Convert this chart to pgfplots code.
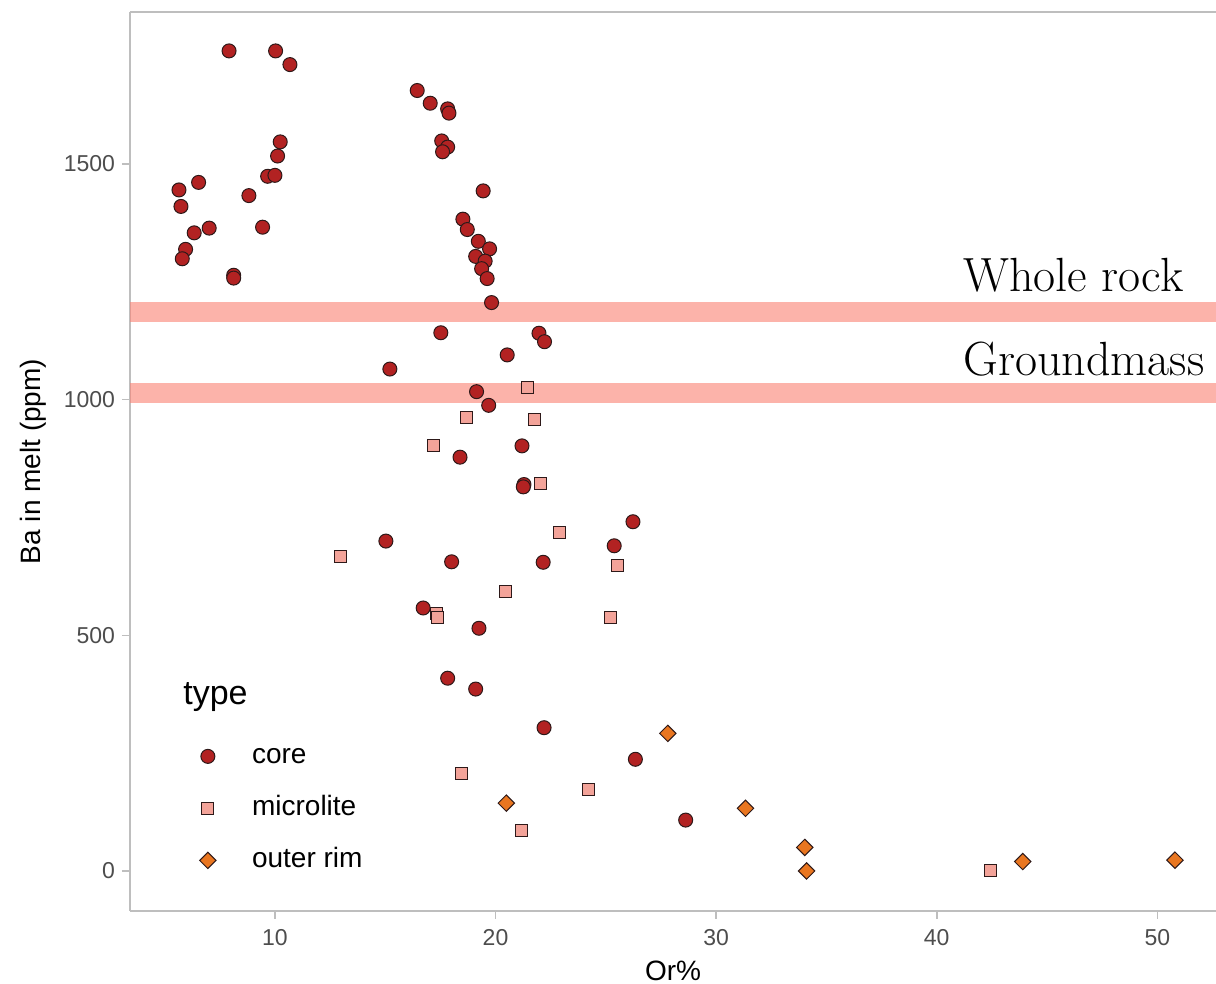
\documentclass[border=0pt]{standalone}
\usepackage{pgfplots}
\pgfplotsset{compat=1.18}
\usepackage{fontspec}
\newfontfamily\sans{Liberation Sans}

\definecolor{corefill}{RGB}{178,34,34}
\definecolor{microfill}{RGB}{243,163,153}
\definecolor{rimfill}{RGB}{233,118,32}
\definecolor{bandcol}{RGB}{250,128,114}
\definecolor{axisgrey}{RGB}{190,190,190}
\definecolor{ticktext}{RGB}{77,77,77}
\definecolor{edge}{RGB}{45,25,25}

% Or% vs Ba in melt, by feldspar zone
\pgfplotstableread{
x y
7.92 1740
10.03 1740
10.68 1711
16.45 1656
17.04 1629
17.83 1617
17.89 1608
10.24 1547
10.12 1517
9.67 1474
10.00 1476
5.65 1445
6.54 1461
5.74 1410
8.82 1433
17.56 1549
17.83 1536
17.60 1526
19.44 1443
7.02 1364
6.34 1354
9.44 1366
5.95 1319
5.80 1299
8.13 1264
8.13 1258
18.52 1383
18.72 1361
19.22 1336
19.73 1320
19.10 1304
19.53 1294
19.37 1278
19.62 1257
19.82 1206
17.52 1142
21.97 1141
22.22 1123
20.53 1095
15.21 1065
19.14 1017
19.69 988
21.20 902
18.39 878
21.29 820
21.26 815
15.03 700
18.01 656
22.16 655
25.38 690
26.23 741
16.72 558
19.25 515
17.83 409
19.10 386
22.20 304
26.34 237
28.62 108
}\coredata

\pgfplotstableread{
x y
21.44 1025
18.69 963
21.75 958
17.18 902
22.06 823
22.92 718
12.96 668
25.55 649
20.46 593
17.32 547
17.37 538
25.19 537
18.44 207
24.21 172
21.17 85
42.42 0
}\microdata

\pgfplotstableread{
x y
27.81 292
20.49 144
31.33 133
34.02 50
34.10 0
43.90 20
50.80 23
}\rimdata

\begin{document}
\begin{tikzpicture}
\begin{axis}[
  scale only axis, width=543pt, height=449.5pt,
  xmin=3.43, xmax=52.66, ymin=-84.9, ymax=1822.6,
  axis x line=bottom, axis y line=left,
  axis line style={axisgrey, line width=1pt, -},
  xtick={10,20,30,40,50}, ytick={0,500,1000,1500},
  tick align=outside, major tick length=4pt,
  tick style={axisgrey, line width=0.8pt},
  /pgf/number format/assume math mode=true,
  /pgf/number format/set thousands separator={},
  tick label style={font=\sans\fontsize{11.5}{13}\selectfont, text=ticktext},
  xticklabel style={yshift=-1.5pt},
  xlabel={Or\%}, ylabel={Ba in melt (ppm)},
  label style={font=\sans\fontsize{14}{16}\selectfont},
  xlabel style={at={(axis description cs:0.5,-0.0667)}, anchor=center},
  ylabel style={at={(axis description cs:-0.0893,0.5)}, anchor=center},
  legend style={at={(axis cs:6.57,271.6)}, anchor=north west, draw=none, fill=none,
    inner sep=0pt, row sep=13pt, column sep=18pt,
    font=\sans\fontsize{14}{16}\selectfont,
    nodes={inner sep=0pt, text height=10pt, text depth=3pt}},
  legend cell align=left,
]
\addplot[only marks, mark=*, mark size=3.5pt,
  mark options={fill=corefill, draw=edge, line width=0.5pt}] table {\coredata};
\addlegendentry{core}
\addplot[only marks, mark=square*, mark size=3pt,
  mark options={fill=microfill, draw=edge, line width=0.5pt}] table {\microdata};
\addlegendentry{microlite}
\addplot[only marks, mark=square*, mark size=2.9pt,
  mark options={rotate=45, fill=rimfill, draw=edge, line width=0.5pt}] table {\rimdata};
\addlegendentry{outer rim}

% reference levels: whole rock and groundmass
\addplot[bandcol, draw opacity=0.6, line width=10pt, forget plot]
  coordinates {(3.43,1187) (52.66,1187)};
\addplot[bandcol, draw opacity=0.6, line width=10pt, forget plot]
  coordinates {(3.43,1014) (52.66,1014)};

\node[anchor=base west, inner sep=0pt, font=\fontsize{24}{28}\selectfont] at (axis cs:41.19,1228.5) {Whole rock};
\node[anchor=base west, inner sep=0pt, font=\fontsize{24}{28}\selectfont] at (axis cs:41.19,1052) {Groundmass};
\node[anchor=base west, inner sep=0pt, font=\sans\fontsize{17}{20}\selectfont] at (axis cs:5.83,352.2) {type};

\draw[axisgrey, line width=1pt] (rel axis cs:0,1) -- (rel axis cs:1,1);
\end{axis}
\pgfresetboundingbox
\path ([shift={(-65pt,-36.5pt)}]current axis.south west) rectangle ([shift={(0pt,6pt)}]current axis.north east);
\end{tikzpicture}
\end{document}
